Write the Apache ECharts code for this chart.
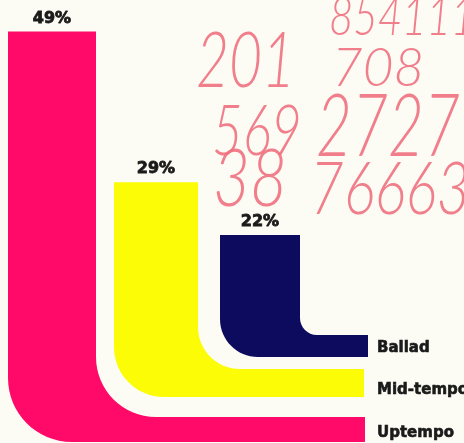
<!DOCTYPE html>
<html>
<head>
<meta charset="utf-8">
<script src="https://cdn.jsdelivr.net/npm/echarts@6/dist/echarts.min.js"></script>
<style>
html, body { margin: 0; padding: 0; background: #fcfcf4; }
#chart-container { width: 464px; height: 443px; }
</style>
</head>
<body>
<div id="chart-container"></div>
<script>
var categories = ['Uptempo', 'Mid-tempo', 'Ballad'];
var shares = [49, 29, 22];
var colors = ['#ff0a68', '#fcfc06', '#0c0b5e'];
var notes = ['854111', '201', '708', '569', '2727', '38', '76663'];

// shape of each L, relative to the axis baseline (pixels)
var shapes = [
  { w: 88, b0: 16, b1: 41, xr: 365, R: 64, r: 60, ly: 32 },
  { w: 84, b0: -32, b1: -4, xr: 364, R: 50, r: 42, ly: -11 },
  { w: 80, b0: -66, b1: -44, xr: 368, R: 38, r: 17, ly: -53 }
];

var dom = document.getElementById('chart-container');
var myChart = echarts.init(dom, null, { renderer: 'canvas' });

function renderL(params, api) {
  var i = params.dataIndex;
  var s = shapes[i];
  var top = api.coord([i, api.value(1)]);
  var base = api.coord([i, 0])[1];
  var x0 = top[0] - s.w / 2;
  var x1 = top[0] + s.w / 2;
  var y0 = top[1];
  var b0 = base + s.b0;
  var b1 = base + s.b1;
  var R = s.R, r = s.r, k = 0.5523;
  var d = 'M' + x0 + ' ' + y0 + 'L' + x1 + ' ' + y0 +
    'L' + x1 + ' ' + (b0 - r) +
    'C' + x1 + ' ' + (b0 - r + k * r) + ' ' + (x1 + r - k * r) + ' ' + b0 + ' ' + (x1 + r) + ' ' + b0 +
    'L' + s.xr + ' ' + b0 + 'L' + s.xr + ' ' + b1 +
    'L' + (x0 + R) + ' ' + b1 +
    'C' + (x0 + R - k * R) + ' ' + b1 + ' ' + x0 + ' ' + (b1 - R + k * R) + ' ' + x0 + ' ' + (b1 - R) + 'Z';
  return {
    type: 'group',
    children: [
      { type: 'path', shape: { pathData: d }, style: { fill: colors[i] } },
      {
        type: 'text',
        style: {
          text: api.value(1) + '%', x: top[0], y: y0 - 13,
          align: 'center', verticalAlign: 'middle',
          font: 'bold 16px "DejaVu Sans"', fill: '#1a1a1a',
          stroke: '#1a1a1a', lineWidth: 0.8
        }
      },
      {
        type: 'text',
        style: {
          text: categories[i], x: 377, y: base + s.ly,
          align: 'left', verticalAlign: 'middle',
          font: 'bold 15px "DejaVu Sans"', fill: '#1a1a1a',
          stroke: '#1a1a1a', lineWidth: 0.6
        }
      }
    ]
  };
}

// pen scribbles in the top right corner
function note(text, x, y, size, sy) {
  return {
    type: 'text', x: x, y: y, scaleY: sy, silent: true,
    style: {
      text: text, fill: '#f0707f', opacity: 0.9,
      verticalAlign: 'top',
      font: 'italic 300 ' + size + 'px Lato'
    }
  };
}

var option = {
  backgroundColor: '#fcfcf4',
  animation: false,
  grid: { left: 0, right: 152, top: 24, bottom: 42 },
  xAxis: { type: 'category', data: categories, show: false },
  yAxis: { type: 'value', min: 0, max: 50, show: false },
  graphic: [
    note(notes[0], 329, -8, 42, 1.25),
    note(notes[1], 196, 24, 57, 1.35),
    note(notes[2], 332, 42, 53, 1),
    note(notes[3], 212, 96, 53, 1.35),
    note(notes[4], 316, 85, 62, 1.4),
    note(notes[5], 213, 140, 64, 1.25),
    note(notes[6], 310, 154, 58, 1.25)
  ],
  series: [
    {
      type: 'custom',
      renderItem: renderL,
      encode: { x: 0, y: 1 },
      data: shares.map(function (v, i) { return [i, v]; })
    }
  ]
};

myChart.setOption(option);
window.addEventListener('resize', myChart.resize);
</script>
</body>
</html>
